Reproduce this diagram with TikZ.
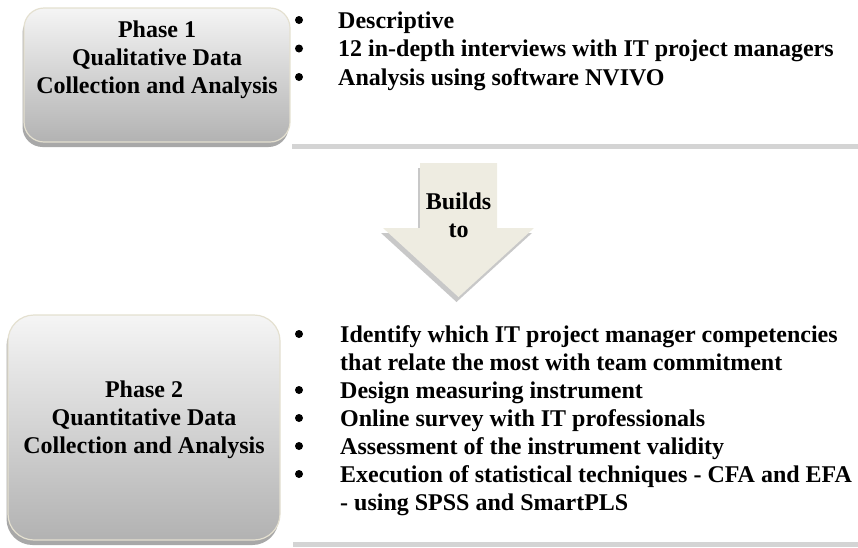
\documentclass[tikz,border=0pt]{standalone}
\usepackage{fontspec}
\setmainfont{Liberation Serif}
\usetikzlibrary{shadows}

\definecolor{boxtop}{HTML}{F5F5F5}
\definecolor{boxbot}{HTML}{B2B2B2}
\definecolor{boxrim}{HTML}{E4E0D0}
\definecolor{boxshadow}{HTML}{A8A8A8}
\definecolor{arrowfill}{HTML}{EEECE1}
\definecolor{arrowshadow}{HTML}{C8C8C8}
\definecolor{rulegray}{HTML}{D4D4D4}

\tikzset{
  phasebox/.style={draw=boxrim, line width=1.2pt, rounded corners=#1,
    top color=boxtop, bottom color=boxbot, inner sep=0pt,
    drop shadow={shadow xshift=-1.5pt, shadow yshift=-5pt, fill=boxshadow, opacity=1}},
  txt/.style={font=\fontsize{24}{28}\selectfont\bfseries, inner sep=0pt},
  line/.style={txt, anchor=base},
  item/.style={txt, anchor=base west},
  dot/.style={circle, fill=black, inner sep=0pt, minimum size=8pt},
}

\begin{document}
\begin{tikzpicture}[x=1pt, y=-1pt]
  \useasboundingbox (0,0) rectangle (858,547);

  % ---- Phase 1 ----
  \node[phasebox=20pt, minimum width=266pt, minimum height=134pt] (p1box) at (157,75) {};
  \node[line] (p1a) at (157,37.5) {Phase 1};
  \node[line] (p1b) at (157,65.5) {Qualitative Data};
  \node[line] (p1c) at (157,93.5) {Collection and Analysis};

  \node[dot] (d11) at (299,20) {};
  \node[dot] (d12) at (299,48.5) {};
  \node[dot] (d13) at (299,77) {};
  \node[item] (i11) at (338,28) {Descriptive};
  \node[item] (i12) at (338,56.5) {12 in-depth interviews with IT project managers};
  \node[item] (i13) at (338,85) {Analysis using software NVIVO};

  \fill[rulegray] (292,144) rectangle (858,149);

  % ---- transition arrow ----
  \fill[arrowshadow] (418,168) -- (495,168) -- (495,233) -- (532,233)
    -- (456.5,302) -- (381,233) -- (418,233) -- cycle;
  \fill[arrowfill] (420,163) -- (497,163) -- (497,228) -- (534,228)
    -- (458.5,297) -- (383,228) -- (420,228) -- cycle;
  \node[line] (ba) at (458.5,209) {Builds};
  \node[line] (bb) at (458.5,237) {to};

  % ---- Phase 2 ----
  \node[phasebox=26pt, minimum width=272pt, minimum height=225pt] (p2box) at (144,427.5) {};
  \node[line] (p2a) at (144,397) {Phase 2};
  \node[line] (p2b) at (144,425) {Quantitative Data};
  \node[line] (p2c) at (144,453) {Collection and Analysis};

  \node[dot] (d21) at (299,334) {};
  \node[dot] (d22) at (299,390) {};
  \node[dot] (d23) at (299,418) {};
  \node[dot] (d24) at (299,446) {};
  \node[dot] (d25) at (299,474) {};
  \node[item] (i21) at (340,342) {Identify which IT project manager competencies};
  \node[item] (i21b) at (340,370) {that relate the most with team commitment};
  \node[item] (i22) at (340,398) {Design measuring instrument};
  \node[item] (i23) at (340,426) {Online survey with IT professionals};
  \node[item] (i24) at (340,454) {Assessment of the instrument validity};
  \node[item] (i25) at (340,482) {Execution of statistical techniques - CFA and EFA};
  \node[item] (i25b) at (340,510) {- using SPSS and SmartPLS};

  \fill[rulegray] (293,542) rectangle (858,547);
\end{tikzpicture}
\end{document}
